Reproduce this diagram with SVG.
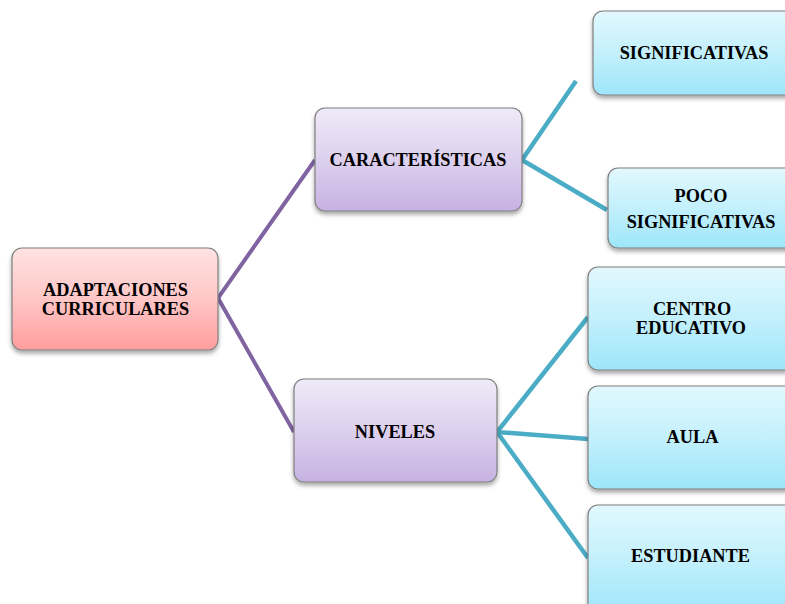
<svg xmlns="http://www.w3.org/2000/svg" width="785" height="604" viewBox="0 0 785 604">
<defs>
<linearGradient id="gPink" x1="0" y1="0" x2="0" y2="1"><stop offset="0" stop-color="#FFE3E3"/><stop offset="0.5" stop-color="#FFC6C6"/><stop offset="1" stop-color="#FF9D9D"/></linearGradient>
<linearGradient id="gPurple" x1="0" y1="0" x2="0" y2="1"><stop offset="0" stop-color="#EFEAF8"/><stop offset="0.5" stop-color="#DDD0EE"/><stop offset="1" stop-color="#C6B2E2"/></linearGradient>
<linearGradient id="gBlue" x1="0" y1="0" x2="0" y2="1"><stop offset="0" stop-color="#E2F8FE"/><stop offset="0.5" stop-color="#C3F0FC"/><stop offset="1" stop-color="#9DE6FA"/></linearGradient>
<filter id="sh" x="-10%" y="-10%" width="130%" height="140%"><feDropShadow dx="0" dy="3" stdDeviation="2" flood-color="#000" flood-opacity="0.35"/></filter>
</defs>
<style>
.box{stroke:#7F7F7F;stroke-width:1.2;filter:url(#sh)}
.pink{fill:url(#gPink)}
.purple{fill:url(#gPurple)}
.blue{fill:url(#gBlue)}
text{font-family:"Liberation Serif","Times New Roman",serif;font-weight:bold;font-size:18.3px;fill:#000;text-anchor:middle}
.c1{stroke:#8064A2;stroke-width:4;fill:none;stroke-linecap:butt}
.c2{stroke:#4BACC6;stroke-width:4.5;fill:none;stroke-linecap:butt}
</style>
<g id="connectors">
<polyline class="c1" points="315,160 218,298 294,432"/>
<polyline class="c2" points="576,81 522,160 607,210"/>
<polyline class="c2" points="588,317 497,432 588,439"/>
<line class="c2" x1="497" y1="432" x2="588" y2="558"/>
</g>
<g id="adaptaciones">
<rect class="box pink" x="12" y="248" width="206" height="102" rx="10"/>
<text x="115.5" y="295.5">ADAPTACIONES</text>
<text x="115.5" y="314.5">CURRICULARES</text>
</g>
<g id="caracteristicas">
<rect class="box purple" x="315" y="108" width="207" height="103" rx="10"/>
<text x="418" y="166">CARACTERÍSTICAS</text>
</g>
<g id="niveles">
<rect class="box purple" x="294" y="379" width="203" height="103" rx="10"/>
<text x="395" y="438">NIVELES</text>
</g>
<g id="significativas">
<rect class="box blue" x="593" y="11" width="205" height="84" rx="10"/>
<text x="694" y="59">SIGNIFICATIVAS</text>
</g>
<g id="poco-significativas">
<rect class="box blue" x="608" y="168" width="190" height="80" rx="10"/>
<text x="701" y="202">POCO</text>
<text x="701" y="228">SIGNIFICATIVAS</text>
</g>
<g id="centro-educativo">
<rect class="box blue" x="588" y="267" width="210" height="103" rx="10"/>
<text x="692" y="315">CENTRO</text>
<text x="691" y="334">EDUCATIVO</text>
</g>
<g id="aula">
<rect class="box blue" x="588" y="386" width="210" height="103" rx="10"/>
<text x="692.5" y="443">AULA</text>
</g>
<g id="estudiante">
<rect class="box blue" x="588" y="505" width="210" height="110" rx="10"/>
<text x="690.5" y="562">ESTUDIANTE</text>
</g>
</svg>
